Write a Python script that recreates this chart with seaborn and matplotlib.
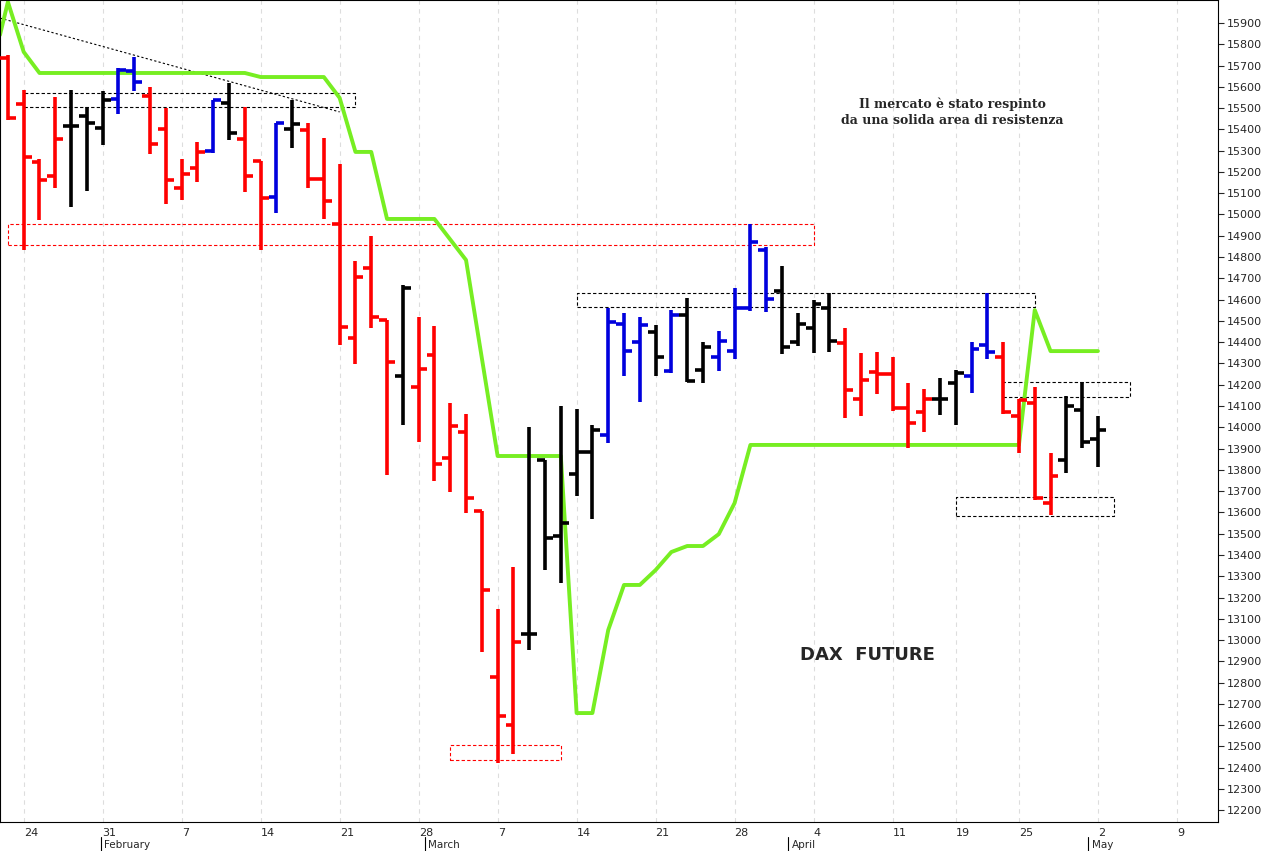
import seaborn as sns
import matplotlib.pyplot as plt
import matplotlib.transforms as mtransforms
import numpy as np

# OHLC daily bars, DAX future (Jan 21 - May 3)
highs = [15750, 15585, 15261, 15552, 15585, 15505, 15580, 15688, 15740, 15599,
         15500, 15261, 15341, 15538, 15618, 15505, 15251, 15430, 15538, 15430,
         15359, 15237, 14781, 14899, 14504, 14669, 14518, 14476, 14114, 14062,
         13606, 13146, 13343, 14001, 13846, 14100, 14086, 14011, 14560, 14537,
         14518, 14481, 14551, 14608, 14401, 14452, 14654, 14955, 14847, 14758,
         14537, 14598, 14631, 14467, 14349, 14354, 14330, 14208, 14180, 14231,
         14269, 14401, 14631, 14401, 14133, 14189, 13879, 14147, 14213, 14053]
lows = [15444, 14833, 14974, 15124, 15035, 15110, 15327, 15472, 15580, 15284,
        15049, 15068, 15153, 15289, 15350, 15106, 14833, 15007, 15312, 15124,
        14979, 14387, 14297, 14466, 13776, 14011, 13931, 13747, 13696, 13597,
        12944, 12422, 12464, 12953, 13329, 13268, 13677, 13569, 13926, 14241,
        14119, 14241, 14255, 14213, 14208, 14264, 14321, 14546, 14542, 14344,
        14382, 14349, 14354, 14043, 14053, 14156, 14076, 13902, 13978, 14058,
        14011, 14161, 14321, 14062, 13879, 13658, 13588, 13785, 13902, 13813]
opens = [15735, 15519, 15247, 15181, 15416, 15463, 15406, 15543, 15674, 15557,
         15402, 15124, 15219, 15298, 15524, 15355, 15251, 15082, 15402, 15397,
         15167, 14955, 14419, 14748, 14504, 14241, 14189, 14340, 13855, 13978,
         13606, 12826, 12601, 13028, 13846, 13489, 13780, 13884, 13964, 14484,
         14401, 14448, 14264, 14528, 14269, 14330, 14358, 14560, 14833, 14640,
         14401, 14467, 14560, 14396, 14133, 14260, 14250, 14090, 14072, 14133,
         14208, 14241, 14387, 14330, 14053, 14114, 13644, 13846, 14081, 13945]
closes = [15453, 15270, 15162, 15355, 15416, 15430, 15538, 15680, 15623, 15331,
          15162, 15190, 15294, 15538, 15383, 15181, 15077, 15430, 15425, 15167,
          15063, 14471, 14706, 14518, 14307, 14654, 14274, 13827, 14006, 13667,
          13235, 12643, 12991, 13028, 13479, 13550, 13884, 13987, 14495, 14358,
          14481, 14330, 14528, 14217, 14377, 14405, 14560, 14871, 14603, 14377,
          14485, 14579, 14405, 14175, 14222, 14250, 14090, 14020, 14133, 14133,
          14255, 14368, 14354, 14072, 14128, 13667, 13771, 14100, 13931, 13987]
bar_colors = list("rrrrkkkbbrrrrbkrrbkrrrrrrkrrrrrrrkkkkkbbbkbkkbbbbkkkkrrrrrrkkbbrrrrkkk")

# green trailing stop line (bar index, price)
stop_x = [-0.5, 0, 1, 2, 15, 16, 20, 21, 22, 23, 24, 27, 29, 31, 35, 36, 37, 38, 39,
          40, 41, 42, 43, 44, 45, 46, 47, 64, 65, 66, 69]
stop_y = [15844, 15999, 15764, 15665, 15665, 15646, 15646, 15548, 15294, 15294, 14979,
          14979, 14786, 13865, 13865, 12657, 12657, 13047, 13259, 13259, 13329, 13414,
          13442, 13442, 13498, 13644, 13917, 13917, 14551, 14358, 14358]

# dashed zones: (bar_start, bar_end, price_low, price_high, color)
zones_x0 = [1, 0, 36, 28, 63, 60]
zones_x1 = [22, 51, 65, 35, 71, 70]
zones_lo = [15505, 14857, 14565, 12436, 14142, 13583]
zones_hi = [15571, 14955, 14631, 12507, 14213, 13672]
zones_col = ['black', 'red', 'black', 'red', 'black', 'black']

tick_pos = [1, 6, 11, 16, 21, 26, 31, 36, 41, 46, 51, 56, 60, 64, 69, 74]
tick_lab = ['24', '31', '7', '14', '21', '28', '7', '14', '21', '28', '4', '11', '19', '25', '2', '9']
month_pos = [6.5, 27, 50, 69]
month_lab = ['February', 'March', 'April', 'May']

sns.set_style("white")
plt.rcParams['font.family'] = ['DejaVu Sans']
fig = plt.figure(figsize=(12.66, 8.51), dpi=100)
ax = fig.add_axes([0, 1 - 822 / 851, 1218 / 1266, 822 / 851])

cmap = {'r': '#ff0000', 'b': '#0000dd', 'k': '#000000'}
idx = np.arange(len(highs))
cols = [cmap[c] for c in bar_colors]
ax.vlines(idx, lows, highs, colors=cols, lw=2.6, zorder=3)
ax.hlines(opens, idx - 0.5, idx, colors=cols, lw=2.6, zorder=3)
ax.hlines(closes, idx, idx + 0.5, colors=cols, lw=2.6, zorder=3)

sns.lineplot(x=stop_x, y=stop_y, ax=ax, color='#77ee22', lw=2.8, zorder=2, sort=False)

for x0, x1, lo, hi, c in zip(zones_x0, zones_x1, zones_lo, zones_hi, zones_col):
    ax.plot([x0, x1, x1, x0, x0], [lo, lo, hi, hi, lo], ls=(0, (3, 2)), lw=0.8, color=c, zorder=1)

ax.plot([-0.5, 21], [15923, 15482], ls=(0, (2, 2)), lw=0.8, color='black', zorder=1)

ax.text(59.8, 15480, "Il mercato è stato respinto\nda una solida area di resistenza",
        ha='center', va='center', fontsize=9, fontweight='bold', family='DejaVu Serif',
        linespacing=1.3)
ax.text(54.4, 12930, "DAX  FUTURE", ha='center', va='center', fontsize=13, fontweight='bold')

ax.set_xlim(-0.5, 76.6)
ax.set_ylim(12145, 16008)
ax.set_yticks(np.arange(12200, 15901, 100))
ax.yaxis.tick_right()
ax.tick_params(axis='y', labelsize=8, length=4, pad=2)
ax.set_xticks(tick_pos)
ax.set_xticklabels(tick_lab, fontsize=8)
ax.tick_params(axis='x', length=4, pad=0.5)
for lab in ax.get_xticklabels():
    lab.set_horizontalalignment('left')
for p in tick_pos:
    ax.axvline(p, color='#dddddd', ls=(0, (4, 4)), lw=0.8, zorder=0)
for s in ax.spines.values():
    s.set_color('black')
    s.set_linewidth(0.8)

trans = mtransforms.blended_transform_factory(ax.transData, ax.transAxes)
for p, m in zip(month_pos, month_lab):
    ax.text(p - 0.4, -0.0225, m, transform=trans, fontsize=7.5, ha='left', va='top')
    ax.plot([p - 0.6, p - 0.6], [-0.018, -0.036], transform=trans, color='black', lw=0.8, clip_on=False)

fig.savefig("out.png", dpi=100)
